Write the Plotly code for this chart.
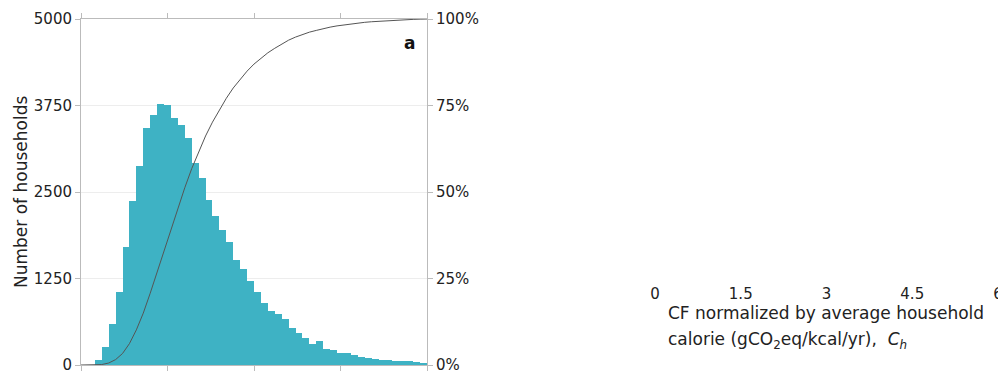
import numpy as np
import plotly.graph_objects as go

# ---- data ----
bin_width = 0.12
first_edge = 0.24
counts = [75, 265, 590, 1050, 1705, 2370, 2880, 3430, 3617, 3770, 3760, 3575,
          3470, 3285, 2925, 2700, 2385, 2160, 1950, 1775, 1520, 1385, 1215, 1050,
          890, 780, 735, 665, 530, 465, 385, 300, 340, 225, 215, 170, 180, 145,
          120, 100, 85, 72, 70, 65, 60, 55, 40, 25]
x_ticks = [0, 1.5, 3, 4.5, 6]
x_tick_text = ["0", "1.5", "3", "4.5", "6"]
y_ticks = [0, 1250, 2500, 3750, 5000]
y2_ticks = [0, 25, 50, 75, 100]
y2_tick_text = ["0%", "25%", "50%", "75%", "100%"]

n = len(counts)
left_edges = np.round(first_edge + bin_width * np.arange(n), 4)
centers = left_edges + bin_width / 2
cum = np.cumsum(counts) / np.sum(counts) * 100
cum_x = np.concatenate([[0.0, first_edge], left_edges + bin_width])
cum_y = np.concatenate([[0.0, 0.0], cum])

# page is offset by the default 8px body margin
OFF = 8
W, H = 1006 - OFF, 374 - OFF
PLOT_TOP, PLOT_BOTTOM = 19, 365          # page pixels
ML, MR = 0, 0
MT = PLOT_TOP - OFF
MB = H - (PLOT_BOTTOM - OFF)
PW, PH = W - ML - MR, H - MT - MB


def px_x(p):
    return (p - OFF - ML) / PW


def px_y(p):
    return (H - MB - (p - OFF)) / PH


FONT = "DejaVu Sans"
TXT = "#222222"
LINE = "#bbbbbb"

fig = go.Figure()
fig.add_trace(go.Bar(x=centers, y=counts, width=bin_width,
                     marker=dict(color="#3eb2c4", line=dict(width=0)),
                     showlegend=False, hoverinfo="x+y"))
fig.add_trace(go.Scatter(x=cum_x, y=cum_y, mode="lines", yaxis="y2",
                         line=dict(color="#555555", width=1),
                         showlegend=False))
# invisible trace that carries the displaced tick-label axis
fig.add_trace(go.Scatter(x=[0, 6], y=[None, None], xaxis="x2", yaxis="y3",
                         mode="markers", showlegend=False, hoverinfo="skip"))

fig.update_layout(
    width=W, height=H,
    margin=dict(l=ML, r=MR, t=MT, b=MB, autoexpand=False),
    plot_bgcolor="white", paper_bgcolor="white",
    font=dict(family=FONT, size=15, color=TXT),
    bargap=0,
    xaxis=dict(domain=[px_x(81), px_x(427)], range=[0, 6],
               tickvals=x_ticks, showticklabels=False,
               ticks="outside", ticklen=5, tickcolor=LINE,
               showline=True, linecolor=LINE, linewidth=1, mirror="allticks",
               showgrid=False, zeroline=False, anchor="y", automargin=False),
    xaxis2=dict(domain=[px_x(655), px_x(998)], range=[0, 6],
                tickvals=x_ticks, ticktext=x_tick_text,
                anchor="free", position=px_y(283),
                showline=False, ticks="", showgrid=False, zeroline=False,
                ticklabeloverflow="allow", automargin=False,
                tickfont=dict(size=15, color=TXT)),
    yaxis=dict(domain=[0, 1], range=[0, 5000], tickvals=y_ticks,
               ticks="outside", ticklen=5, tickcolor=LINE,
               showline=True, linecolor=LINE, linewidth=1,
               showgrid=True, gridcolor="#ededed", gridwidth=1,
               zeroline=False, ticklabeloverflow="allow", automargin=False,
               anchor="x"),
    yaxis2=dict(overlaying="y", side="right", range=[0, 100],
                tickvals=y2_ticks, ticktext=y2_tick_text,
                ticks="outside", ticklen=5, tickcolor=LINE,
                showline=True, linecolor=LINE, linewidth=1,
                showgrid=False, zeroline=False, anchor="x",
                ticklabeloverflow="allow", automargin=False),
    yaxis3=dict(domain=[0, 1], anchor="x2", visible=False, range=[0, 1]),
    annotations=[
        dict(text="Number of households", textangle=-90,
             x=px_x(21), y=px_y(192), xref="paper", yref="paper",
             xanchor="center", yanchor="middle",
             showarrow=False, font=dict(size=17, color=TXT)),
        dict(text="<b>a</b>", x=px_x(409), y=px_y(43), xref="paper", yref="paper",
             xanchor="center", yanchor="middle",
             showarrow=False, font=dict(size=17, color="#111111")),
        dict(text="CF normalized by average household", x=px_x(666), y=px_y(313),
             xref="paper", yref="paper", xanchor="left", yanchor="middle",
             showarrow=False, font=dict(size=17, color=TXT)),
        dict(text="calorie (gCO<sub>2</sub>eq/kcal/yr),  <i>C</i><sub><i>h</i></sub>",
             x=px_x(666), y=px_y(340), xref="paper", yref="paper",
             xanchor="left", yanchor="middle",
             showarrow=False, font=dict(size=17, color=TXT)),
    ],
)

fig.write_html("out.html")
